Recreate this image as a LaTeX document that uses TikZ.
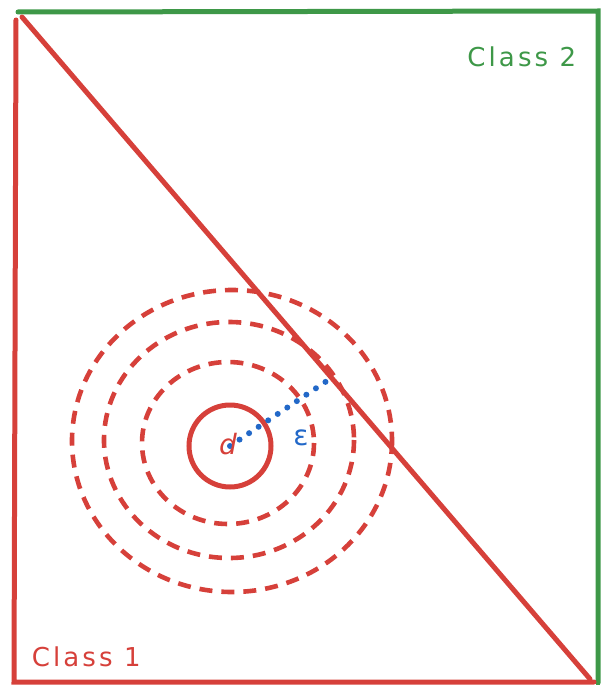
\documentclass[tikz,border=0pt]{standalone}
\usepackage{fontspec}
\usetikzlibrary{calc}
\newfontfamily\sketchfont[LetterSpace=12]{DejaVu Sans}
\definecolor{skred}{RGB}{214,64,58}
\definecolor{skgreen}{RGB}{62,152,72}
\definecolor{skblue}{RGB}{34,104,200}

\begin{document}
\begin{tikzpicture}[x=1pt, y=-1pt, line width=5pt, line cap=round,
  ring/.style={skred, line width=4.6pt, line cap=butt, dash pattern=on 13pt off 9pt},
  tag/.style={font=\sketchfont\fontsize{26}{29}\selectfont}]
  \useasboundingbox (0,0) rectangle (600,685);
  \coordinate (TL) at (18, 12);
  \coordinate (TR) at (598, 11);
  \coordinate (BR) at (598, 683);
  \coordinate (BL) at (14, 682);
  \coordinate (D1) at (22, 17);
  \coordinate (D2) at (590, 679);
  \coordinate (O)  at (230, 446);
  \coordinate (E)  at ($(D1)!0.545!(D2)$);

  % 区域边界
  \draw[skgreen] (TL) -- (TR) -- (BR);
  \draw[skred] (16, 20) -- (BL) -- (594, 682);
  \draw[skred] (D1) -- (D2);

  % 虚线同心圆
  \draw[ring] (228, 443) ellipse [x radius=86, y radius=81];
  \draw[ring] (229, 440) ellipse [x radius=125, y radius=118];
  \draw[ring] (232, 441) ellipse [x radius=160, y radius=151];

  % 实心小圆与 ε 半径
  \draw[skred] (O) circle [radius=41];
  \draw[skblue, line width=6pt, dash pattern=on 0pt off 11.5pt] (O) -- (E);

  \node[skred, tag, font=\sketchfont\itshape\fontsize{28}{30}\selectfont] (d) at (228, 444) {d};
  \node[skblue, tag, font=\sketchfont\fontsize{28}{30}\selectfont] (eps) at (301, 438) {ε};
  \node[skgreen, tag, anchor=east] (c2) at (582, 57) {Class 2};
  \node[skred, tag, anchor=west] (c1) at (26, 657) {Class 1};
\end{tikzpicture}
\end{document}
